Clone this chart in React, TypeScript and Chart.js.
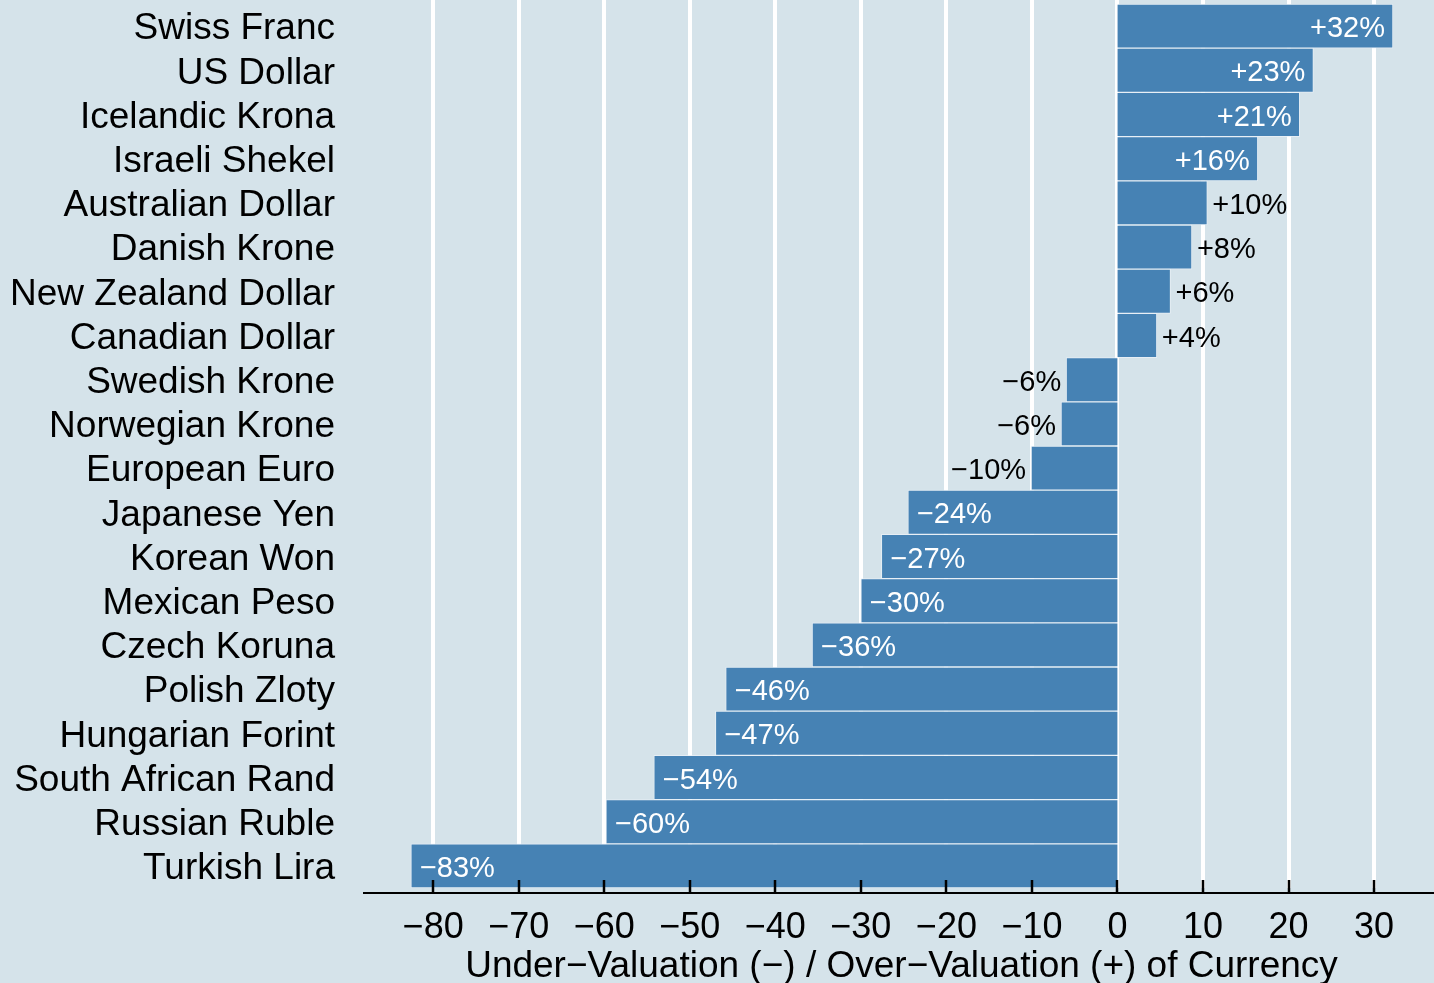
import React, { useEffect, useRef } from "react";
import { Chart, registerables } from "chart.js";

Chart.register(...registerables);

const CATEGORIES = [
  "Swiss Franc",
  "US Dollar",
  "Icelandic Krona",
  "Israeli Shekel",
  "Australian Dollar",
  "Danish Krone",
  "New Zealand Dollar",
  "Canadian Dollar",
  "Swedish Krone",
  "Norwegian Krone",
  "European Euro",
  "Japanese Yen",
  "Korean Won",
  "Mexican Peso",
  "Czech Koruna",
  "Polish Zloty",
  "Hungarian Forint",
  "South African Rand",
  "Russian Ruble",
  "Turkish Lira",
];

const VALUATION = [
  32.2, 22.9, 21.3, 16.4, 10.5, 8.7, 6.2, 4.6, -6.0, -6.6, -10.1, -24.5, -27.6,
  -30.0, -35.7, -45.8, -47.0, -54.2, -59.8, -82.6,
];

const VALUE_LABELS = [
  "+32%", "+23%", "+21%", "+16%", "+10%", "+8%", "+6%", "+4%", "\u22126%",
  "\u22126%", "\u221210%", "\u221224%", "\u221227%", "\u221230%", "\u221236%",
  "\u221246%", "\u221247%", "\u221254%", "\u221260%", "\u221283%",
];

const X_TICKS = [-80, -70, -60, -50, -40, -30, -20, -10, 0, 10, 20, 30];
const X_TICK_LABELS = [
  "\u221280", "\u221270", "\u221260", "\u221250", "\u221240", "\u221230",
  "\u221220", "\u221210", "0", "10", "20", "30",
];
const X_MIN = -88.2;
const X_MAX = 37.0;
const X_TITLE =
  "Under\u2212Valuation (\u2212) / Over\u2212Valuation (+) of Currency";

const FONT = '"Liberation Sans", Arial, Helvetica, sans-serif';
const BG = "#d5e3ea";
const BAR = "#4682b4";

const overlayPlugin = {
  id: "overlay",
  beforeDatasetsDraw(chart: any) {
    const { ctx, chartArea, scales } = chart;
    const x = scales.x;
    ctx.save();
    ctx.strokeStyle = "#ffffff";
    ctx.lineWidth = 4;
    X_TICKS.forEach((v) => {
      const px = Math.round(x.getPixelForValue(v));
      ctx.beginPath();
      ctx.moveTo(px, 0);
      ctx.lineTo(px, chartArea.bottom);
      ctx.stroke();
    });
    ctx.restore();
  },
  afterDatasetsDraw(chart: any) {
    const { ctx, chartArea, scales } = chart;
    const x = scales.x;
    const meta = chart.getDatasetMeta(0);
    ctx.save();
    ctx.font = `29px ${FONT}`;
    ctx.textBaseline = "middle";
    meta.data.forEach((bar: any, i: number) => {
      const v = VALUATION[i];
      const inside = Math.abs(v) > 12;
      const end = bar.x;
      let tx = end;
      let align: CanvasTextAlign = "left";
      let color = "#000000";
      if (v >= 0) {
        if (inside) {
          tx = end - 8;
          align = "right";
          color = "#ffffff";
        } else {
          tx = end + 5;
          align = "left";
        }
      } else {
        if (inside) {
          tx = end + 9;
          align = "left";
          color = "#ffffff";
        } else {
          tx = end - 5;
          align = "right";
        }
      }
      ctx.textAlign = align;
      ctx.fillStyle = color;
      ctx.fillText(VALUE_LABELS[i], tx, bar.y + 3);
    });

    const axisY = chartArea.bottom + 5;
    ctx.strokeStyle = "#000000";
    ctx.lineWidth = 2;
    ctx.beginPath();
    ctx.moveTo(chartArea.left, axisY);
    ctx.lineTo(chart.width, axisY);
    ctx.stroke();

    ctx.lineWidth = 2.5;
    X_TICKS.forEach((v) => {
      const px = Math.round(x.getPixelForValue(v));
      ctx.beginPath();
      ctx.moveTo(px, axisY);
      ctx.lineTo(px, axisY - 13);
      ctx.stroke();
    });

    ctx.font = `36px ${FONT}`;
    ctx.fillStyle = "#000000";
    ctx.textAlign = "center";
    ctx.textBaseline = "alphabetic";
    X_TICKS.forEach((v, i) => {
      const px = x.getPixelForValue(v);
      ctx.fillText(X_TICK_LABELS[i], px, axisY + 45);
    });

    ctx.font = `37px ${FONT}`;
    ctx.fillText(X_TITLE, (chartArea.left + chartArea.right) / 2 + 3, axisY + 84);
    ctx.restore();
  },
};

export default function App() {
  const canvasRef = useRef<HTMLCanvasElement | null>(null);

  useEffect(() => {
    const canvas = canvasRef.current;
    if (!canvas) return;
    const chart = new Chart(canvas, {
      type: "bar",
      data: {
        labels: CATEGORIES,
        datasets: [
          {
            data: VALUATION,
            backgroundColor: BAR,
            borderColor: "rgba(235,242,248,0.75)",
            borderWidth: 1,
            barPercentage: 1,
            categoryPercentage: 1,
          },
        ],
      },
      options: {
        indexAxis: "y",
        responsive: false,
        animation: false,
        events: [],
        layout: { padding: { top: 4, left: 0, right: 0, bottom: 0 } },
        plugins: {
          legend: { display: false },
          tooltip: { enabled: false },
          title: { display: false },
        },
        scales: {
          x: {
            type: "linear",
            min: X_MIN,
            max: X_MAX,
            grid: { display: false },
            border: { display: false },
            ticks: { display: false },
            afterFit: (scale: any) => {
              scale.height = 95;
              scale.paddingLeft = 0;
              scale.paddingRight = 0;
            },
          },
          y: {
            type: "category",
            grid: { display: false, drawTicks: false },
            border: { display: false },
            ticks: {
              color: "#000000",
              padding: 28,
              autoSkip: false,
              labelOffset: 3,
              font: { family: FONT, size: 37, lineHeight: 1 },
            },
            afterFit: (scale: any) => {
              scale.width = 363;
              scale.paddingTop = 0;
              scale.paddingBottom = 0;
            },
          },
        },
      },
      plugins: [overlayPlugin],
    });
    return () => chart.destroy();
  }, []);

  return (
    <div
      style={{
        position: "fixed",
        left: 0,
        top: 0,
        width: 1434,
        height: 983,
        background: BG,
        overflow: "hidden",
      }}
    >
      <canvas
        ref={canvasRef}
        width={1434}
        height={983}
        style={{ display: "block", width: 1434, height: 983 }}
      />
    </div>
  );
}
